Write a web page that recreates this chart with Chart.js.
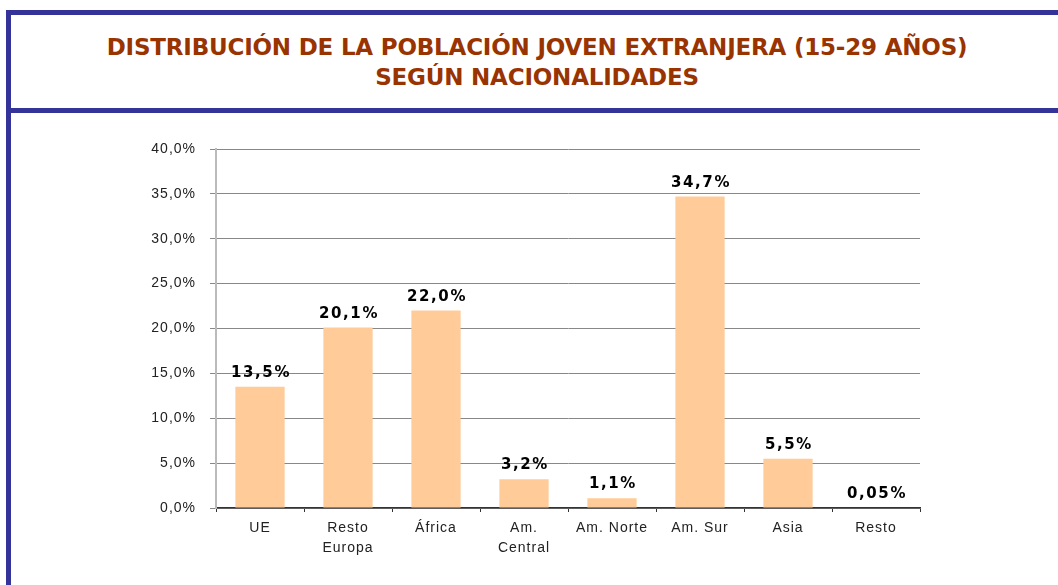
<!DOCTYPE html>
<html>
<head>
<meta charset="utf-8">
<script src="https://cdn.jsdelivr.net/npm/chart.js@4.4.1/dist/chart.umd.min.js"></script>
<style>
  html, body { margin: 0; padding: 0; background: #fff; }
  body { width: 1058px; height: 585px; position: relative; overflow: hidden; }
  .bar-line { position: absolute; background: #333399; }
  #title {
    position: absolute; left: 16px; right: 0; top: 32px;
    text-align: center; color: #993300;
    font-family: "DejaVu Sans", sans-serif; font-weight: bold;
    font-size: 23px; line-height: 30px; letter-spacing: -0.2px;
  }
  #chart-wrap { position: absolute; left: 0; top: 0; width: 1058px; height: 585px; }
</style>
</head>
<body>
<div class="bar-line" style="left:6px; top:10px; width:1052px; height:5px;"></div>
<div class="bar-line" style="left:6px; top:10px; width:5px; height:575px;"></div>
<div class="bar-line" style="left:6px; top:108px; width:1052px; height:5px;"></div>
<div id="title">DISTRIBUCIÓN DE LA POBLACIÓN JOVEN EXTRANJERA (15-29 AÑOS)<br>SEGÚN NACIONALIDADES</div>
<div id="chart-wrap"><canvas id="chart" width="1058" height="585"></canvas></div>

<script>
// Datos
const categorias = [['UE'], ['Resto', 'Europa'], ['África'], ['Am.', 'Central'], ['Am. Norte'], ['Am. Sur'], ['Asia'], ['Resto']];
const porcentajes = [13.5, 20.1, 22.0, 3.2, 1.1, 34.7, 5.5, 0.05];
const etiquetas = ['13,5%', '20,1%', '22,0%', '3,2%', '1,1%', '34,7%', '5,5%', '0,05%'];

const fmt = v => v.toFixed(1).replace('.', ',') + '%';

// espaciado de letras como en el original
const spacing = {
  id: 'spacing',
  beforeDraw(chart) { chart.ctx.letterSpacing = '1px'; }
};

// etiquetas de valor encima de cada barra
const valueLabels = {
  id: 'valueLabels',
  afterDatasetsDraw(chart) {
    const ctx = chart.ctx;
    const meta = chart.getDatasetMeta(0);
    ctx.save();
    ctx.font = 'bold 15px "DejaVu Sans", sans-serif';
    ctx.letterSpacing = '1.6px';
    ctx.fillStyle = '#000';
    ctx.textAlign = 'center';
    ctx.textBaseline = 'alphabetic';
    meta.data.forEach((bar, i) => {
      ctx.fillText(etiquetas[i], bar.x + 1, bar.y - 10);
    });
    ctx.restore();
  }
};

const ctx = document.getElementById('chart').getContext('2d');
new Chart(ctx, {
  type: 'bar',
  data: {
    labels: categorias,
    datasets: [{
      data: porcentajes,
      backgroundColor: '#FFCC99',
      borderWidth: 0,
      categoryPercentage: 1,
      barPercentage: 0.56
    }]
  },
  options: {
    responsive: false,
    animation: false,
    layout: { padding: { top: 149, right: 138, bottom: 0, left: 0 } },
    plugins: { legend: { display: false }, tooltip: { enabled: false } },
    scales: {
      x: {
        offset: true,
        afterFit: s => { s.height = 77; },
        grid: { offset: true, drawOnChartArea: false, drawTicks: true, tickLength: 4, color: '#333' },
        border: { color: '#333', width: 1.5 },
        ticks: {
          color: '#222', padding: 6,
          font: { family: '"Liberation Sans", Arial, sans-serif', size: 14, lineHeight: 1.45 },
          maxRotation: 0, autoSkip: false
        }
      },
      y: {
        min: 0, max: 40,
        afterFit: s => { s.width = 216; },
        grid: { color: '#888', lineWidth: 1, tickLength: 6, drawTicks: true },
        border: { color: '#bbb', width: 2 },
        ticks: {
          stepSize: 5, color: '#222', padding: 14,
          font: { family: '"Liberation Sans", Arial, sans-serif', size: 14 },
          callback: v => fmt(v)
        }
      }
    }
  },
  plugins: [spacing, valueLabels]
});
</script>
</body>
</html>
